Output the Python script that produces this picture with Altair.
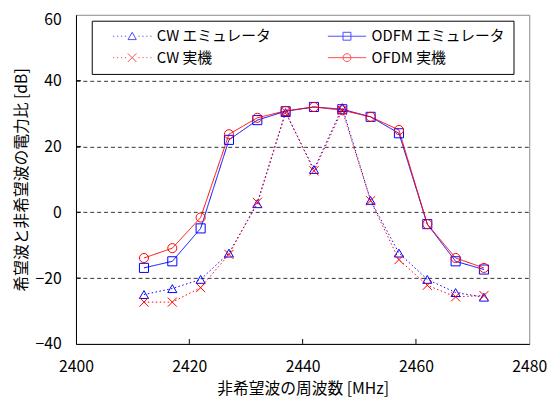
import altair as alt
import pandas as pd

# ---- data ----
freq = [2412, 2417, 2422, 2427, 2432, 2437, 2442, 2447, 2452, 2457, 2462, 2467, 2472]
series_names = ["CW エミュレータ", "ODFM エミュレータ", "CW 実機", "OFDM 実機"]
cw_emu = [-25.0, -23.2, -20.4, -12.4, 2.6, 30.3, 13.0, 31.8, 3.6, -12.4, -20.4, -24.4, -25.8]
odfm_emu = [-16.9, -14.9, -4.9, 22.0, 28.0, 30.7, 32.0, 31.3, 29.0, 24.0, -3.6, -14.9, -17.4]
cw_real = [-27.3, -27.3, -22.9, -12.8, 3.0, 30.5, 12.6, 31.0, 3.5, -14.4, -22.2, -25.7, -25.3]
ofdm_real = [-13.9, -10.9, -1.6, 23.7, 28.7, 30.8, 32.0, 31.0, 29.0, 25.0, -3.6, -13.9, -16.9]
legend_order = ["CW エミュレータ", "CW 実機", "ODFM エミュレータ", "OFDM 実機"]
x_tick_values = [2400, 2420, 2440, 2460, 2480]
y_tick_values = [-40, -20, 0, 20, 40, 60]
x_inner_ticks = [2420, 2440, 2460]
y_inner_ticks = [-20, 0, 20, 40]

series_values = [cw_emu, odfm_emu, cw_real, ofdm_real]
rows = []
for name, vals in zip(series_names, series_values):
    for f, v in zip(freq, vals):
        rows.append({"f": f, "v": v, "s": name})
df = pd.DataFrame(rows)

# ---- styles ----
FONT = "Noto Sans CJK JP"
colors = ["#0000ff", "#0000ff", "#ff0000", "#ff0000"]
dashes = [[1.5, 2.5], [1, 0], [1.5, 2.5], [1, 0]]
xpath = "M-1,-1L1,1M-1,1L1,-1"
shapes = ["triangle-up", "square", xpath, "circle"]

tri = "M0,-1L1.05,0.85L-1.05,0.85Z"
sq = "M-1,-1H1V1H-1Z"
circ = "M1,0A1,1,0,1,1,-1,0A1,1,0,1,1,1,0Z"
xm = "M-1.1,-1.1L1.1,1.1M-1.1,1.1L1.1,-1.1"


def dotted(marker):
    segs = ""
    for a in [-4.85, -3.85, -2.85, -1.85, 1.6, 2.6, 3.6, 4.6]:
        segs += "M%.2f,0L%.2f,0" % (a, a + 0.3)
    return segs + marker


solid = "M-4.85,0L4.85,0"
legend_colors = ["#0000ff", "#ff0000", "#0000ff", "#ff0000"]
legend_paths = [dotted(tri), dotted(xm), solid + sq, solid + circ]

xscale = alt.Scale(domain=[2400, 2480], nice=False, zero=False)
yscale = alt.Scale(domain=[-40, 60], nice=False, zero=False)

x_enc = alt.X(
    "f:Q",
    scale=xscale,
    axis=alt.Axis(
        values=x_tick_values,
        format="d",
        title="非希望波の周波数 [MHz]",
        grid=False,
        ticks=False,
        tickSize=0,
        labelFlush=False,
        labelPadding=15,
        titlePadding=6,
    ),
)
y_enc = alt.Y(
    "v:Q",
    scale=yscale,
    axis=alt.Axis(
        values=y_tick_values,
        title="希望波と非希望波の電力比 [dB]",
        grid=True,
        gridDash=[4, 3],
        gridColor="#333333",
        gridOpacity=alt.condition("datum.value == 60 || datum.value == -40", alt.value(0), alt.value(1)),
        ticks=False,
        tickSize=0,
        labelFlush=False,
        labelOffset=alt.condition("datum.value == 60", alt.value(5), alt.value(0)),
        labelPadding=15,
        titlePadding=6,
    ),
)

base = alt.Chart(df)

lines = base.mark_line(strokeWidth=1).encode(
    x=x_enc,
    y=y_enc,
    color=alt.Color("s:N", scale=alt.Scale(domain=series_names, range=colors), legend=None),
    strokeDash=alt.StrokeDash("s:N", scale=alt.Scale(domain=series_names, range=dashes), legend=None),
    order=alt.Order("f:Q"),
)

points = base.mark_point(filled=False, strokeWidth=1, size=85, opacity=1).encode(
    x=alt.X("f:Q", scale=xscale),
    y=alt.Y("v:Q", scale=yscale),
    color=alt.Color("s:N", scale=alt.Scale(domain=series_names, range=colors), legend=None),
    shape=alt.Shape("s:N", scale=alt.Scale(domain=series_names, range=shapes), legend=None),
)

xt = alt.Chart(pd.DataFrame({"t": x_inner_ticks})).mark_rule(color="black", strokeWidth=1).encode(
    x=alt.X("t:Q", scale=xscale),
    y=alt.datum(-40),
    y2=alt.datum(-38.5),
)
yt = alt.Chart(pd.DataFrame({"t": y_inner_ticks})).mark_rule(color="black", strokeWidth=1).encode(
    y=alt.Y("t:Q", scale=yscale),
    x=alt.datum(2400),
    x2=alt.datum(2400.85),
)

leg = alt.Legend(
    title=None,
    orient="none",
    legendX=16,
    legendY=6,
    columns=2,
    symbolSize=64,
    symbolStrokeWidth=1,
    symbolOffset=25.5,
    labelOffset=17.5,
    labelFont=FONT,
    labelFontSize=15,
    labelColor="black",
    columnPadding=43,
    rowPadding=6,
    padding=8,
    strokeColor="black",
    fillColor="white",
)

legend_df = pd.DataFrame({"s": legend_order})
legend_layer = alt.Chart(legend_df).transform_filter("false").mark_point(filled=False, strokeWidth=1, size=64).encode(
    color=alt.Color("s:N", scale=alt.Scale(domain=legend_order, range=legend_colors), legend=leg),
    shape=alt.Shape("s:N", scale=alt.Scale(domain=legend_order, range=legend_paths), legend=leg),
)

chart = (
    alt.layer(lines, points, xt, yt, legend_layer)
    .resolve_scale(color="independent", shape="independent")
    .properties(
        width=460,
        height=334,
        autosize=alt.AutoSizeParams(type="none"),
        padding={"left": 69, "top": 4, "right": 18, "bottom": 53},
    )
    .configure_view(stroke="#888888", strokeWidth=1)
    .configure_axis(
        labelFont=FONT,
        titleFont=FONT,
        labelFontSize=16,
        titleFontSize=16,
        titleFontWeight="normal",
        labelColor="black",
        titleColor="black",
        domainColor="black",
        domainWidth=1,
    )
)

chart.save("out.html", embed_options={"renderer": "svg", "actions": False})
